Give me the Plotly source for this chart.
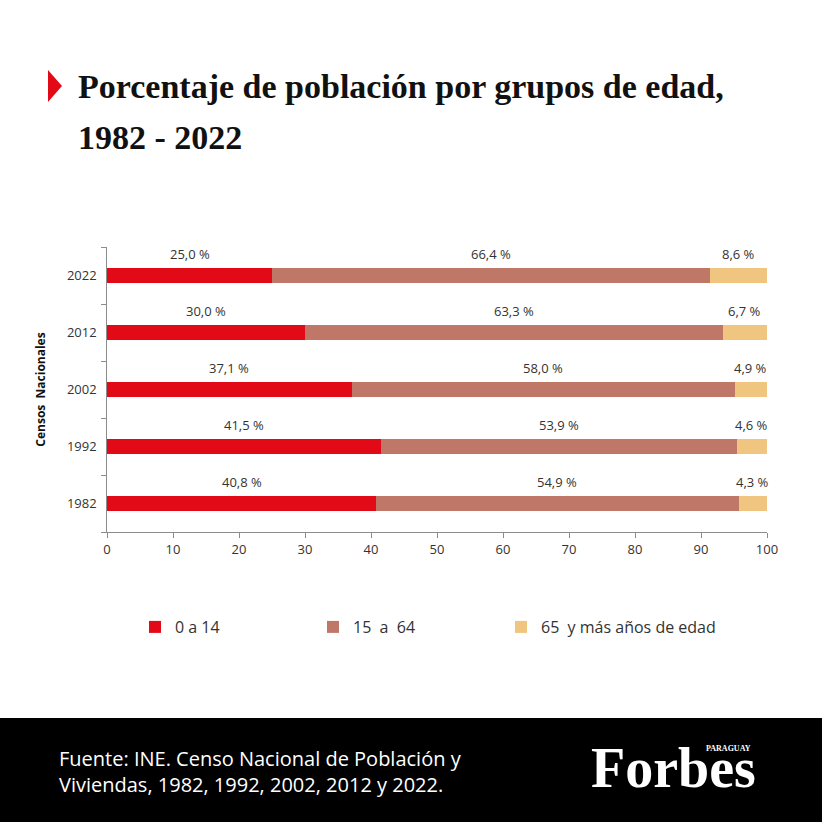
import plotly.graph_objects as go

years = ["1982", "1992", "2002", "2012", "2022"]
age_0_14 = [40.8, 41.5, 37.1, 30.0, 25.0]
age_15_64 = [54.9, 53.9, 58.0, 63.3, 66.4]
age_65_plus = [4.3, 4.6, 4.9, 6.7, 8.6]
series_names = ["0 a 14", "15  a  64", "65  y más años de edad"]
colors = ["#e30a17", "#bf7868", "#efc57f"]
x_ticks = [0, 10, 20, 30, 40, 50, 60, 70, 80, 90, 100]

# plot area in pixels
L, R, T, B = 107, 767, 247, 532
W, H = 822, 822


def px(x):
    return (x - L) / (R - L)


def py(y):
    return (B - y) / (B - T)


FONT = "Open Sans"
fig = go.Figure()
series = [age_0_14, age_15_64, age_65_plus]
legend_ids = ["legend", "legend2", "legend3"]
for name, vals, col, lg in zip(series_names, series, colors, legend_ids):
    fig.add_trace(go.Bar(
        y=years, x=vals, name=name, orientation="h",
        marker=dict(color=col, line=dict(width=0)),
        hoverinfo="x+y+name", legend=lg,
    ))

# value labels above each segment
annotations = []
for i, yr in enumerate(years):
    start = 0
    for vals in series:
        v = vals[i]
        annotations.append(dict(
            x=start + v / 2, y=i, xref="x", yref="y",
            text=f"{v:.1f} %".replace(".", ","),
            showarrow=False, yshift=22,
            font=dict(family=FONT, size=13, color="#333333"),
        ))
        start += v

# title
TITLE_FONT = dict(family="Liberation Serif", size=34, color="#111111", weight="bold")
annotations.append(dict(
    x=px(76), y=py(86), xref="paper", yref="paper", xanchor="left", yanchor="middle",
    text="Porcentaje de población por grupos de edad,", showarrow=False, font=TITLE_FONT,
))
annotations.append(dict(
    x=px(76), y=py(138), xref="paper", yref="paper", xanchor="left", yanchor="middle",
    text="1982 - 2022", showarrow=False, font=TITLE_FONT,
))
# footer
annotations.append(dict(
    x=px(57), y=py(771), xref="paper", yref="paper", xanchor="left", yanchor="middle",
    text="Fuente: INE. Censo Nacional de Población y<br>Viviendas, 1982, 1992, 2002, 2012 y 2022.",
    showarrow=False, align="left",
    font=dict(family=FONT, size=20, color="#ffffff"),
))
annotations.append(dict(
    x=px(673), y=py(768), xref="paper", yref="paper", xanchor="center", yanchor="middle",
    text="Forbes", showarrow=False,
    font=dict(family="Liberation Serif", size=56, color="#ffffff", weight="bold"),
))
annotations.append(dict(
    x=px(753), y=py(748), xref="paper", yref="paper", xanchor="right", yanchor="middle",
    text="PARAGUAY", showarrow=False,
    font=dict(family="Liberation Serif", size=8, color="#ffffff", weight="bold"),
))

shapes = [
    dict(type="path", xref="paper", yref="paper",
         path=f"M{px(48)},{py(70)} L{px(48)},{py(102)} L{px(62)},{py(86)} Z",
         fillcolor="#e30a17", line=dict(width=0)),
    dict(type="rect", xref="paper", yref="paper",
         x0=px(-5), x1=px(830), y0=py(718), y1=py(830),
         fillcolor="#000000", line=dict(width=0), layer="below"),
]


def legend_at(xpix):
    return dict(
        orientation="h", x=px(xpix), y=py(627), xanchor="left", yanchor="middle",
        itemwidth=30, font=dict(family=FONT, size=16, color="#333333"),
        bgcolor="rgba(0,0,0,0)",
    )


fig.update_layout(
    width=W, height=H,
    margin=dict(l=L, r=W - R, t=T, b=H - B),
    paper_bgcolor="#ffffff", plot_bgcolor="#ffffff",
    barmode="stack", bargap=0.72,
    font=dict(family=FONT, size=13, color="#333333"),
    showlegend=True,
    legend=legend_at(135),
    legend2=legend_at(313),
    legend3=legend_at(501),
    xaxis=dict(
        range=[0, 100], tickvals=x_ticks, showgrid=False, zeroline=False,
        showline=True, linecolor="#8c8c8c", linewidth=1,
        ticks="outside", ticklen=5, tickcolor="#8c8c8c",
        tickfont=dict(family=FONT, size=13, color="#333333"), fixedrange=True,
    ),
    yaxis=dict(
        type="category", categoryorder="array", categoryarray=years,
        range=[-0.5, 4.5],
        showgrid=False, zeroline=False, showline=True, linecolor="#8c8c8c", linewidth=1,
        ticks="outside", ticklen=5, tickcolor="#8c8c8c", tickson="boundaries",
        ticksuffix="  ",
        tickfont=dict(family=FONT, size=13, color="#333333"),
        title=dict(text="Censos  Nacionales", standoff=18,
                   font=dict(family=FONT, size=12, color="#111111", weight="bold")),
        fixedrange=True,
    ),
    annotations=annotations, shapes=shapes,
)

fig.write_html("out.html", config={"displayModeBar": False},
               post_script="document.body.style.margin='0';")
